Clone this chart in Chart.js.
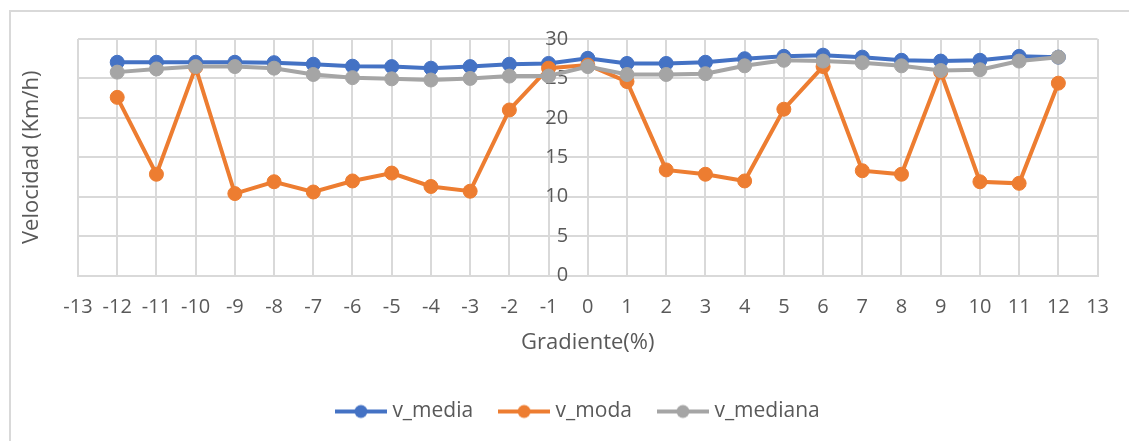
<!DOCTYPE html>
<html>
<head>
<meta charset="utf-8">
<script src="https://cdn.jsdelivr.net/npm/chart.js@4/dist/chart.umd.min.js"></script>
<style>
  html, body { margin: 0; padding: 0; background: #fff; overflow: hidden; }
  #wrap { position: relative; width: 1129px; height: 441px; }
  #frame { position: absolute; left: 9px; top: 10px; width: 1200px; height: 600px;
           border: 2px solid #d9d9d9; box-sizing: border-box; }
  #c { position: absolute; left: 0; top: 0; }
</style>
</head>
<body>
<div id="wrap">
  <div id="frame"></div>
  <canvas id="c" width="1129" height="441"></canvas>
</div>
<script>
// Gradient (%) of each road segment class
const gradiente = [-12, -11, -10, -9, -8, -7, -6, -5, -4, -3, -2, -1, 0, 1, 2, 3, 4, 5, 6, 7, 8, 9, 10, 11, 12];

// Speeds (km/h) per gradient
const vMedia   = [27.05, 27.05, 27.05, 27.05, 27.0, 26.8, 26.55, 26.5, 26.3, 26.5, 26.8, 26.9, 27.55, 26.9, 26.9, 27.05, 27.5, 27.8, 27.95, 27.7, 27.3, 27.2, 27.3, 27.8, 27.7];
const vModa    = [22.6, 12.85, 26.4, 10.4, 11.9, 10.6, 12.0, 13.0, 11.3, 10.7, 21.0, 26.3, 26.7, 24.6, 13.4, 12.85, 12.0, 21.1, 26.5, 13.3, 12.85, 25.8, 11.9, 11.7, 24.4];
const vMediana = [25.8, 26.2, 26.5, 26.5, 26.3, 25.5, 25.1, 24.95, 24.8, 25.0, 25.3, 25.3, 26.5, 25.5, 25.5, 25.6, 26.6, 27.3, 27.2, 27.0, 26.6, 26.0, 26.1, 27.2, 27.7];

const seriesNames  = ['v_media', 'v_moda', 'v_mediana'];
const seriesValues = [vMedia, vModa, vMediana];
const seriesColors = ['#4472C4', '#ED7D31', '#A5A5A5'];

// Axis ranges
const xMin = -13, xMax = 13, xStep = 1;
const yMin = 0, yMax = 30, yStep = 5;

const FONT = "'Open Sans', 'DejaVu Sans', sans-serif";
const TEXT = '#595959';
const GRID = '#d9d9d9';

// Legend icon: a short line with a round marker in the middle
function makeLegendIcon(color) {
  const cv = document.createElement('canvas');
  cv.width = 52; cv.height = 16;
  const g = cv.getContext('2d');
  g.strokeStyle = color;
  g.lineWidth = 4;
  g.beginPath(); g.moveTo(0, 8); g.lineTo(52, 8); g.stroke();
  g.fillStyle = color;
  g.beginPath(); g.arc(26, 8, 6.5, 0, Math.PI * 2); g.fill();
  return cv;
}
const legendIcons = seriesColors.map(makeLegendIcon);

const datasets = seriesNames.map((name, i) => ({
  label: name,
  data: gradiente.map((g, k) => ({ x: g, y: seriesValues[i][k] })),
  borderColor: seriesColors[i],
  backgroundColor: seriesColors[i],
  borderWidth: 4,
  pointRadius: 7,
  pointBorderWidth: 1,
  pointBackgroundColor: seriesColors[i],
  pointBorderColor: seriesColors[i],
  tension: 0,
  order: seriesNames.length - i,
  xAxisID: 'x',
  yAxisID: 'y'
}));

// Nudges the centred legend row slightly to the left
const legendOffset = {
  id: 'legendOffset',
  afterLayout(chart) {
    if (chart.legend) { chart.legend.left -= 8; chart.legend.right -= 8; }
  }
};

new Chart(document.getElementById('c'), {
  type: 'line',
  data: { datasets },
  plugins: [legendOffset],
  options: {
    responsive: false,
    animation: false,
    events: [],
    layout: { padding: { left: 15, right: 28, top: 39, bottom: 9 } },
    plugins: {
      tooltip: { enabled: false },
      legend: {
        position: 'bottom',
        fullSize: false,
        labels: {
          usePointStyle: true,
          pointStyleWidth: 42,
          boxHeight: 16,
          padding: 30,
          color: TEXT,
          font: { family: FONT, size: 21 },
          sort: (a, b) => a.datasetIndex - b.datasetIndex,
          generateLabels(chart) {
            const items = Chart.defaults.plugins.legend.labels.generateLabels(chart);
            items.forEach(it => { it.pointStyle = legendIcons[it.datasetIndex]; });
            return items;
          }
        }
      }
    },
    scales: {
      x: {
        type: 'linear',
        position: 'bottom',
        min: xMin, max: xMax,
        ticks: { stepSize: xStep, autoSkip: false, maxRotation: 0, padding: 20,
                 color: TEXT, font: { family: FONT, size: 20 } },
        grid: { color: GRID, lineWidth: 2, drawTicks: false },
        border: { color: GRID, width: 2 },
        title: { display: true, text: 'Gradiente(%)', color: TEXT,
                 font: { family: FONT, size: 22 }, padding: { top: -10, bottom: 15 } }
      },
      y: {
        type: 'linear',
        position: { x: -0.5 },
        min: yMin, max: yMax,
        ticks: { stepSize: yStep, color: TEXT, font: { family: FONT, size: 20 } },
        grid: { color: GRID, lineWidth: 2, drawTicks: false },
        border: { display: false },
        afterFit(scale) { scale.width = 0; }
      },
      yTitle: {
        type: 'linear',
        position: 'left',
        min: yMin, max: yMax,
        ticks: { display: false },
        grid: { display: false, drawTicks: false },
        border: { display: false },
        title: { display: true, text: 'Velocidad (Km/h)', color: TEXT,
                 font: { family: FONT, size: 22 }, padding: { top: 4, bottom: 4 } },
        afterFit(scale) { scale.width = 63; }
      }
    }
  }
});
</script>
</body>
</html>
